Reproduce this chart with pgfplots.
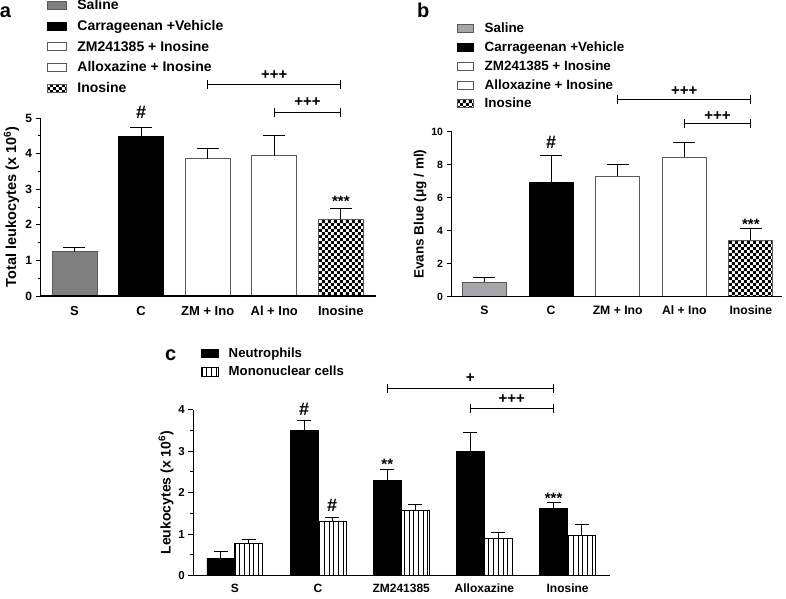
\documentclass[border=0pt]{standalone}
\usepackage{fontspec}
\setmainfont{Liberation Sans}
\usepackage{pgfplots}
\pgfplotsset{compat=1.18}
\usetikzlibrary{patterns,patterns.meta}

\pgfdeclarepatternformonly{mychecker}{\pgfpointorigin}{\pgfqpoint{6.4pt}{6.4pt}}{\pgfqpoint{6.4pt}{6.4pt}}{%
 \pgfpathrectangle{\pgfpointorigin}{\pgfqpoint{3.2pt}{3.2pt}}%
 \pgfpathrectangle{\pgfqpoint{3.2pt}{3.2pt}}{\pgfqpoint{3.2pt}{3.2pt}}%
 \pgfusepath{fill}}

\definecolor{salA}{HTML}{808080}
\definecolor{salB}{HTML}{A7A7AB}
\definecolor{edge}{HTML}{5A5A5A}

\newcommand{\fs}[1]{\fontsize{#1}{#1}\selectfont}
\newcommand{\brk}[3]{%
 \draw[line width=1pt] (axis cs:#1,#3) -- (axis cs:#2,#3);
 \draw[line width=1pt] ([yshift=4.5pt]axis cs:#1,#3) -- ([yshift=-4.5pt]axis cs:#1,#3);
 \draw[line width=1pt] ([yshift=4.5pt]axis cs:#2,#3) -- ([yshift=-4.5pt]axis cs:#2,#3);}

\pgfplotsset{
 panel/.style={
  scale only axis, axis lines*=left, clip=false, axis on top,
  axis line style={line width=1.1pt,black},
  tick align=outside, major tick length=5pt, minor tick length=3pt,
  ytick style={line width=1pt,black},
  xtick style={draw=none},
  xtick={0,...,4},
  /pgf/number format/assume math mode=true,
  ymin=0,
  every axis y label/.style={rotate=90, anchor=base},
  legend cell align=left,
 },
 errstyle/.style={error bars/.cd, y dir=plus, y explicit,
   error bar style={line width=1pt,black},
   error mark options={rotate=90,line width=1pt,black,mark size=#1}},
 legA/.style={legend image code/.code={\draw[##1] (0pt,-4pt) rectangle (19pt,4pt); \path[draw=none,fill=none] (0pt,-10.3pt) rectangle (30pt,10.3pt);}},
 legB/.style={legend image code/.code={\draw[##1] (0pt,-4pt) rectangle (16.6pt,4pt); \path[draw=none,fill=none] (0pt,-9.45pt) rectangle (27.6pt,9.45pt);}},
 legC/.style={legend image code/.code={\draw[##1] (0pt,-4.2pt) rectangle (17.6pt,4.2pt); \path[draw=none,fill=none] (0pt,-9.2pt) rectangle (27.6pt,9.2pt);}},
}

\begin{document}
\begin{tikzpicture}
\useasboundingbox (0pt,0pt) rectangle (786pt,598pt);

% ---------------- panel a
\begin{axis}[panel, at={(40.5pt,302pt)}, anchor=south west, width=335pt, height=178pt,
 xmin=-0.51, xmax=4.52, ymax=5, ytick={0,...,5}, minor y tick num=1,
 xticklabels={S,C,ZM + Ino,Al + Ino,Inosine},
 ylabel={Total leukocytes (x 10\textsuperscript{6})},
 ylabel style={at={(axis description cs:-0.0731,0.5)}, font=\bfseries\fs{14.5}},
 yticklabel style={font=\bfseries\fs{12}},
 xticklabel style={font=\bfseries\fs{13}, inner sep=0pt, anchor=north, text height=9.3pt, text depth=0pt, yshift=-5pt},
 legA,
 legend style={at={(axis description cs:0.0194,1.689)}, anchor=north west, draw=none, fill=none,
   inner sep=0pt, outer sep=0pt, row sep=0pt, column sep=0pt,
   font=\bfseries\fs{14}, nodes={inner sep=0pt}},
]
\addplot[ybar, bar width=45pt, bar shift=0pt, fill=salA, draw=edge, line width=0.8pt, errstyle=11pt] coordinates {(0,1.24) +- (0,0.13)};
\addlegendentry{Saline}
\addplot[ybar, bar width=45pt, bar shift=0pt, fill=black, draw=black, line width=0.8pt, errstyle=11pt] coordinates {(1,4.48) +- (0,0.25)};
\addlegendentry{Carrageenan +Vehicle}
\addplot[ybar, bar width=45pt, bar shift=0pt, fill=white, draw=edge, line width=0.8pt, errstyle=11pt] coordinates {(2,3.86) +- (0,0.27)};
\addlegendentry{ZM241385 + Inosine}
\addplot[ybar, bar width=45pt, bar shift=0pt, fill=white, draw=edge, line width=0.8pt, errstyle=11pt] coordinates {(3,3.94) +- (0,0.57)};
\addlegendentry{Alloxazine + Inosine}
\addplot[ybar, bar width=45pt, bar shift=0pt, pattern=mychecker, pattern color=black, draw=edge, line width=0.8pt, errstyle=11pt] coordinates {(4,2.16) +- (0,0.29)};
\addlegendentry{Inosine}
\node[font=\bfseries\fs{18}, anchor=base] at (axis cs:1,4.99) {\#};
\node[font=\bfseries\fs{15}, anchor=base] at (axis cs:4,2.51) {***};
\brk{2}{4}{5.93}
\brk{3}{4}{5.15}
\node[font=\bfseries\fs{15}, anchor=base] at (axis cs:3,6.07) {+++};
\node[font=\bfseries\fs{15}, anchor=base] at (axis cs:3.5,5.32) {+++};
\end{axis}

% ---------------- panel b
\begin{axis}[panel, at={(451.5pt,301.3pt)}, anchor=south west, width=330pt, height=165pt,
 xmin=-0.495, xmax=4.46, ymax=10, ytick={0,2,...,10},
 xticklabels={S,C,ZM + Ino,Al + Ino,Inosine},
 ylabel={Evans Blue (μg / ml)},
 ylabel style={at={(axis description cs:-0.0848,0.5)}, font=\bfseries\fs{13.5}},
 yticklabel style={font=\bfseries\fs{10.5}},
 xticklabel style={font=\bfseries\fs{12.2}, inner sep=0pt, anchor=north, text height=8.8pt, text depth=0pt, yshift=-3.3pt},
 legB,
 legend style={at={(axis description cs:0.0158,1.684)}, anchor=north west, draw=none, fill=none,
   inner sep=0pt, outer sep=0pt, row sep=0pt, column sep=0pt,
   font=\bfseries\fs{13.4}, nodes={inner sep=0pt}},
]
\addplot[ybar, bar width=44pt, bar shift=0pt, fill=salB, draw=edge, line width=0.8pt, errstyle=11pt] coordinates {(0,0.87) +- (0,0.28)};
\addlegendentry{Saline}
\addplot[ybar, bar width=44pt, bar shift=0pt, fill=black, draw=black, line width=0.8pt, errstyle=11pt] coordinates {(1,6.93) +- (0,1.64)};
\addlegendentry{Carrageenan +Vehicle}
\addplot[ybar, bar width=44pt, bar shift=0pt, fill=white, draw=edge, line width=0.8pt, errstyle=11pt] coordinates {(2,7.30) +- (0,0.72)};
\addlegendentry{ZM241385 + Inosine}
\addplot[ybar, bar width=44pt, bar shift=0pt, fill=white, draw=edge, line width=0.8pt, errstyle=11pt] coordinates {(3,8.45) +- (0,0.91)};
\addlegendentry{Alloxazine + Inosine}
\addplot[ybar, bar width=44pt, bar shift=0pt, pattern=mychecker, pattern color=black, draw=edge, line width=0.8pt, errstyle=11pt] coordinates {(4,3.42) +- (0,0.70)};
\addlegendentry{Inosine}
\node[font=\bfseries\fs{18}, anchor=base] at (axis cs:1,8.99) {\#};
\node[font=\bfseries\fs{15}, anchor=base] at (axis cs:4,4.10) {***};
\brk{2}{4}{11.98}
\brk{3}{4}{10.47}
\node[font=\bfseries\fs{15}, anchor=base] at (axis cs:3,12.22) {+++};
\node[font=\bfseries\fs{15}, anchor=base] at (axis cs:3.5,10.67) {+++};
\end{axis}

% ---------------- panel c
\begin{axis}[panel, at={(193.3pt,22.3pt)}, anchor=south west, width=416.7pt, height=166pt,
 xmin=-0.5, xmax=4.51, ymax=4, ytick={0,...,4}, minor y tick num=1,
 xticklabels={S,C,ZM241385,Alloxazine,Inosine},
 ylabel={Leukocytes (x 10\textsuperscript{6})},
 ylabel style={at={(axis description cs:-0.0542,0.5)}, font=\bfseries\fs{14}},
 yticklabel style={font=\bfseries\fs{11.5}},
 xticklabel style={font=\bfseries\fs{12}, inner sep=0pt, anchor=north, text height=8.6pt, text depth=0pt, yshift=-3.3pt},
 legC,
 legend style={at={(axis description cs:0.0178,1.395)}, anchor=north west, draw=none, fill=none,
   inner sep=0pt, outer sep=0pt, row sep=0pt, column sep=0pt,
   font=\bfseries\fs{13.2}, nodes={inner sep=0pt}},
]
\addplot[ybar, bar width=28pt, bar shift=0pt, fill=black, draw=black, line width=0.8pt, errstyle=7pt] coordinates {
 (-0.168,0.42) +- (0,0.16)
 (0.832,3.51) +- (0,0.22)
 (1.832,2.30) +- (0,0.25)
 (2.832,2.99) +- (0,0.46)
 (3.832,1.61) +- (0,0.16)};
\addlegendentry{Neutrophils}
\addplot[ybar, bar width=28pt, bar shift=0pt, pattern={Lines[angle=90,distance=4.7pt,line width=0.7pt]}, pattern color=black, draw=black, line width=0.8pt, errstyle=7pt] coordinates {
 (0.168,0.78) +- (0,0.10)
 (1.168,1.32) +- (0,0.09)
 (2.168,1.57) +- (0,0.15)
 (3.168,0.89) +- (0,0.15)
 (4.168,0.96) +- (0,0.27)};
\addlegendentry{Mononuclear cells}
\node[font=\bfseries\fs{18}, anchor=base] at (axis cs:0.832,3.87) {\#};
\node[font=\bfseries\fs{18}, anchor=base] at (axis cs:1.168,1.54) {\#};
\node[font=\bfseries\fs{15}, anchor=base] at (axis cs:1.832,2.56) {**};
\node[font=\bfseries\fs{15}, anchor=base] at (axis cs:3.832,1.74) {***};
\brk{1.832}{3.832}{4.52}
\brk{2.832}{3.832}{4.02}
\node[font=\bfseries\fs{15}, anchor=base] at (axis cs:2.83,4.66) {+};
\node[font=\bfseries\fs{15}, anchor=base] at (axis cs:3.33,4.15) {+++};
\end{axis}

% panel letters
\node[font=\bfseries\fs{20}] at (5.5pt,586pt) {a};
\node[font=\bfseries\fs{20}] at (423.3pt,587.2pt) {b};
\node[font=\bfseries\fs{20}] at (170.8pt,243pt) {c};
\end{tikzpicture}
\end{document}
